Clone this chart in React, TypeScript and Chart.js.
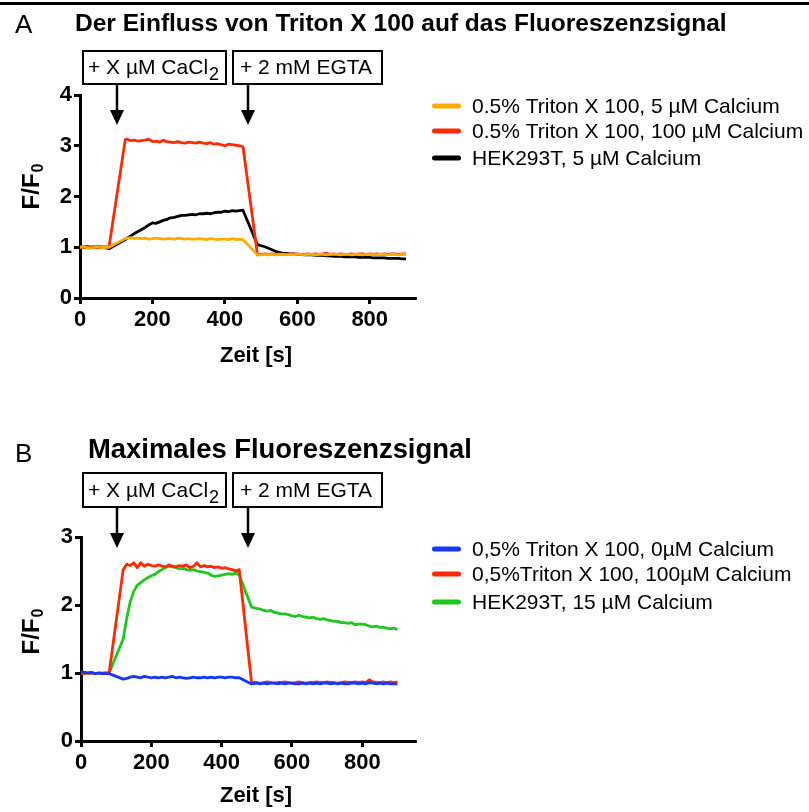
import React, { useEffect, useRef } from "react";
import { Chart, registerables } from "chart.js";

Chart.register(...registerables);

const FONT = "'Liberation Sans', Arial, Helvetica, sans-serif";
const W = 809;
const H = 812;

// ---------- Panel A data ----------
const TIME_A = [
  0, 10, 20, 30, 40, 50, 60, 70, 80,
  125,
  130, 140, 150, 160, 170, 180, 190, 200, 210, 220, 230, 240, 250, 260, 270, 280, 290, 300, 310, 320, 330,
  340, 350, 360, 370, 380, 390, 400, 410, 420, 430, 440, 450,
  490,
  500, 510, 520, 530, 540, 550, 560, 570, 580, 590, 600, 610, 620, 630, 640, 650, 660, 670, 680, 690, 700,
  710, 720, 730, 740, 750, 760, 770, 780, 790, 800, 810, 820, 830, 840, 850, 860, 870, 880, 890, 900,
];

const A_TRITON_5 = [
  1.0, 1.01, 0.99, 0.98, 1.0, 1.01, 0.99, 1.0, 1.0,
  1.17,
  1.18, 1.19, 1.17, 1.18, 1.17, 1.18, 1.16, 1.17, 1.18, 1.17, 1.16, 1.17, 1.17, 1.16, 1.18, 1.17, 1.16,
  1.17, 1.16, 1.16, 1.17, 1.16, 1.15, 1.17, 1.16, 1.15, 1.16, 1.16, 1.15, 1.17, 1.15, 1.16, 1.15,
  0.85,
  0.85, 0.86, 0.85, 0.86, 0.85, 0.86, 0.86, 0.85, 0.86, 0.85, 0.86, 0.86, 0.85, 0.86, 0.86, 0.85, 0.86,
  0.86, 0.85, 0.86, 0.86, 0.86, 0.85, 0.86, 0.86, 0.85, 0.86, 0.86, 0.85, 0.86, 0.86, 0.85, 0.86, 0.86,
  0.86, 0.85, 0.86, 0.86, 0.85, 0.86, 0.86,
];

const A_TRITON_100 = [
  1.0, 1.01, 1.0, 1.0, 1.01, 1.0, 1.0, 1.01, 1.0,
  3.12,
  3.13, 3.1, 3.11, 3.09, 3.1, 3.11, 3.13, 3.08, 3.09, 3.07, 3.11, 3.08, 3.07, 3.06, 3.08, 3.06, 3.05,
  3.07, 3.06, 3.05, 3.07, 3.05, 3.04, 3.06, 3.03, 3.04, 3.02, 3.0, 3.03, 3.02, 3.01, 3.0, 2.98,
  0.85,
  0.86, 0.87, 0.86, 0.87, 0.86, 0.87, 0.86, 0.86, 0.87, 0.86, 0.87, 0.86, 0.86, 0.87, 0.86, 0.87, 0.86,
  0.87, 0.88, 0.86, 0.87, 0.86, 0.87, 0.86, 0.86, 0.87, 0.86, 0.87, 0.87, 0.86, 0.87, 0.86, 0.87, 0.86,
  0.87, 0.86, 0.87, 0.87, 0.86, 0.87, 0.87,
];

const A_HEK_5 = [
  1.01, 1.0, 1.01, 1.0, 1.0, 1.01, 1.0, 0.99, 0.97,
  1.15,
  1.18, 1.22, 1.27, 1.31, 1.35, 1.39, 1.44, 1.48, 1.47, 1.5, 1.53, 1.55, 1.58, 1.59, 1.61, 1.63, 1.63,
  1.64, 1.65, 1.64, 1.66, 1.66, 1.67, 1.66, 1.68, 1.69, 1.69, 1.71, 1.7, 1.72, 1.71, 1.72, 1.73,
  1.05,
  1.03, 1.01, 0.98, 0.95, 0.92, 0.9, 0.88, 0.88, 0.87, 0.87, 0.86, 0.86, 0.85, 0.85, 0.85, 0.84, 0.84,
  0.84, 0.83, 0.83, 0.82, 0.82, 0.82, 0.81, 0.81, 0.81, 0.81, 0.8, 0.8, 0.8, 0.8, 0.79, 0.79, 0.79,
  0.79, 0.78, 0.78, 0.78, 0.78, 0.77, 0.77,
];

const A_X_TICKS = [0, 200, 400, 600, 800];
const A_Y_TICKS = [0, 1, 2, 3, 4];

// ---------- Panel B data ----------
const TIME_B = [
  0, 10, 20, 30, 40, 50, 60, 70, 80,
  120,
  130, 140, 150, 160, 170, 180, 190, 200, 210, 220, 230, 240, 250, 260, 270, 280, 290, 300, 310, 320, 330,
  340, 350, 360, 370, 380, 390, 400, 410, 420, 430, 440, 450,
  485,
  500, 510, 520, 530, 540, 550, 560, 570, 580, 590, 600, 610, 620, 630, 640, 650, 660, 670, 680, 690, 700,
  710, 720, 730, 740, 750, 760, 770, 780, 790, 800, 810, 820, 830, 840, 850, 860, 870, 880, 890, 900,
];

const B_TRITON_0 = [
  1.02, 1.01, 1.0, 1.01, 0.99, 1.0, 0.99, 0.99, 0.99,
  0.91,
  0.92, 0.94, 0.95, 0.94, 0.93, 0.95, 0.94, 0.93, 0.94, 0.93, 0.94, 0.93, 0.94, 0.95, 0.93, 0.94, 0.93,
  0.92, 0.93, 0.94, 0.93, 0.93, 0.94, 0.93, 0.94, 0.93, 0.94, 0.94, 0.93, 0.94, 0.94, 0.93, 0.93,
  0.84,
  0.85, 0.84, 0.85, 0.84, 0.85, 0.85, 0.84, 0.85, 0.84, 0.85, 0.85, 0.84, 0.84, 0.85, 0.84, 0.85, 0.84,
  0.85, 0.84, 0.85, 0.85, 0.84, 0.85, 0.84, 0.85, 0.84, 0.84, 0.85, 0.85, 0.84, 0.85, 0.84, 0.86, 0.85,
  0.84, 0.85, 0.84, 0.85, 0.84, 0.84, 0.84,
];

const B_TRITON_100 = [
  1.0, 0.99, 1.0, 1.0, 0.99, 1.0, 0.99, 1.0, 1.0,
  2.52,
  2.6, 2.58, 2.62, 2.55, 2.62, 2.57, 2.6, 2.58, 2.57, 2.59, 2.57, 2.56, 2.59, 2.57, 2.56, 2.58, 2.57,
  2.59, 2.55, 2.57, 2.62, 2.56, 2.58, 2.56, 2.57, 2.55, 2.56, 2.54, 2.55, 2.53, 2.52, 2.5, 2.52,
  0.86,
  0.86, 0.85, 0.86, 0.87, 0.86, 0.85, 0.86, 0.86, 0.87, 0.86, 0.85, 0.86, 0.87, 0.86, 0.85, 0.86, 0.86,
  0.87, 0.86, 0.86, 0.87, 0.86, 0.86, 0.85, 0.86, 0.87, 0.86, 0.86, 0.87, 0.86, 0.87, 0.86, 0.9, 0.87,
  0.86, 0.86, 0.87, 0.86, 0.87, 0.86, 0.87,
];

const B_HEK_15 = [
  1.0, 1.01, 1.0, 1.0, 0.99, 1.0, 1.0, 1.0, 1.0,
  1.5,
  1.8, 2.05, 2.2, 2.29, 2.33, 2.37, 2.4, 2.43, 2.45, 2.49, 2.52, 2.55, 2.57, 2.56, 2.55, 2.53, 2.54,
  2.52, 2.51, 2.52, 2.5, 2.49, 2.48, 2.47, 2.44, 2.42, 2.43, 2.44, 2.45, 2.46, 2.45, 2.47, 2.44,
  1.97,
  1.95, 1.94, 1.92, 1.91, 1.92, 1.89, 1.88, 1.87, 1.87, 1.86, 1.84, 1.83, 1.85, 1.83, 1.82, 1.81, 1.82,
  1.8, 1.79, 1.8, 1.78, 1.77, 1.76, 1.76, 1.74, 1.74, 1.73, 1.74, 1.71, 1.72, 1.72, 1.71, 1.69, 1.68,
  1.69, 1.67, 1.67, 1.66, 1.65, 1.66, 1.64,
];

const B_X_TICKS = [0, 200, 400, 600, 800];
const B_Y_TICKS = [0, 1, 2, 3];

// ---------- labels ----------
const A_LABELS = [
  "0.5% Triton X 100, 5 µM Calcium",
  "0.5% Triton X 100, 100 µM Calcium",
  "HEK293T, 5 µM Calcium",
];
const B_LABELS = [
  "0,5% Triton X 100, 0µM Calcium",
  "0,5%Triton X 100, 100µM Calcium",
  "HEK293T, 15 µM Calcium",
];
const A_COLORS = ["#FFAA00", "#FF2A00", "#000000"];
const B_COLORS = ["#1436FF", "#FF2A00", "#1EC81E"];

type Panel = {
  letter: string;
  title: string;
  time: number[];
  series: number[][];
  labels: string[];
  colors: string[];
  xTicks: number[];
  yTicks: number[];
  xMax: number;
  yMax: number;
  area: { left: number; right: number; top: number; bottom: number };
  topRule: boolean;
  letterY: number;
  titleX: number;
  titleY: number;
  titleW: number;
  boxTop: number;
  boxBottom: number;
  arrowTip: number;
  yTitleY: number;
  xTitleY: number;
  legendY: number[];
};

const PANELS: Panel[] = [
  {
    letter: "A",
    title: "Der Einfluss von Triton X 100 auf das Fluoreszenzsignal",
    time: TIME_A,
    series: [A_TRITON_5, A_TRITON_100, A_HEK_5],
    labels: A_LABELS,
    colors: A_COLORS,
    xTicks: A_X_TICKS,
    yTicks: A_Y_TICKS,
    xMax: 925,
    yMax: 4,
    area: { left: 80, right: 415, top: 95, bottom: 298 },
    topRule: true,
    letterY: 33,
    titleX: 75,
    titleY: 31,
    titleW: 652,
    boxTop: 51,
    boxBottom: 84,
    arrowTip: 125,
    yTitleY: 187,
    xTitleY: 362,
    legendY: [106, 131, 158],
  },
  {
    letter: "B",
    title: "Maximales Fluoreszenzsignal",
    time: TIME_B,
    series: [B_TRITON_0, B_TRITON_100, B_HEK_15],
    labels: B_LABELS,
    colors: B_COLORS,
    xTicks: B_X_TICKS,
    yTicks: B_Y_TICKS,
    xMax: 950,
    yMax: 3,
    area: { left: 81, right: 415, top: 537, bottom: 741 },
    topRule: false,
    letterY: 462,
    titleX: 88,
    titleY: 458,
    titleW: 384,
    boxTop: 473,
    boxBottom: 507,
    arrowTip: 548,
    yTitleY: 632,
    xTitleY: 802,
    legendY: [549, 574, 602],
  },
];

function fitText(ctx: CanvasRenderingContext2D, text: string, x: number, y: number, width: number, weight: string, base: number) {
  ctx.font = `${weight} ${base}px ${FONT}`;
  const w = ctx.measureText(text).width;
  const size = (base * width) / w;
  ctx.font = `${weight} ${size}px ${FONT}`;
  ctx.fillText(text, x, y);
}

function decorPlugin(p: Panel) {
  return {
    id: "decor" + p.letter,
    afterDraw(chart: any) {
      const ctx: CanvasRenderingContext2D = chart.ctx;
      ctx.save();
      ctx.fillStyle = "#000";
      ctx.strokeStyle = "#000";
      ctx.textAlign = "left";
      ctx.textBaseline = "alphabetic";

      if (p.topRule) ctx.fillRect(0, 2, W, 3);

      // panel letter + title
      ctx.font = `26px ${FONT}`;
      ctx.fillText(p.letter, 15, p.letterY);
      fitText(ctx, p.title, p.titleX, p.titleY, p.titleW, "bold", 24);

      // annotation boxes
      const boxH = p.boxBottom - p.boxTop;
      const textY = p.boxTop + boxH * 0.7;
      ctx.lineWidth = 2;
      ctx.strokeRect(83, p.boxTop, 143, boxH);
      ctx.strokeRect(233, p.boxTop, 149, boxH);
      ctx.font = `21px ${FONT}`;
      const t1 = "+ X µM CaCl";
      ctx.fillText(t1, 88, textY);
      const w1 = ctx.measureText(t1).width;
      ctx.font = `18px ${FONT}`;
      ctx.fillText("2", 88 + w1 + 1, textY + 6);
      ctx.font = `21px ${FONT}`;
      ctx.fillText("+ 2 mM EGTA", 240, textY);

      // arrows
      const arrowXs = [117, 248];
      for (const ax of arrowXs) {
        ctx.lineWidth = 2.5;
        ctx.beginPath();
        ctx.moveTo(ax, p.boxBottom);
        ctx.lineTo(ax, p.arrowTip - 12);
        ctx.stroke();
        ctx.beginPath();
        ctx.moveTo(ax - 7, p.arrowTip - 15);
        ctx.lineTo(ax + 7, p.arrowTip - 15);
        ctx.lineTo(ax, p.arrowTip);
        ctx.closePath();
        ctx.fill();
      }

      // y axis title F/F0
      ctx.save();
      ctx.translate(39, p.yTitleY);
      ctx.rotate(-Math.PI / 2);
      ctx.font = `bold 24px ${FONT}`;
      const main = "F/F";
      const wm = ctx.measureText(main).width;
      ctx.font = `bold 16px ${FONT}`;
      const ws = ctx.measureText("0").width;
      const start = -(wm + ws) / 2;
      ctx.font = `bold 24px ${FONT}`;
      ctx.fillText(main, start, 0);
      ctx.font = `bold 16px ${FONT}`;
      ctx.fillText("0", start + wm + 1, 4);
      ctx.restore();

      // x axis title
      ctx.font = `bold 22px ${FONT}`;
      ctx.textAlign = "center";
      ctx.fillText("Zeit [s]", 256, p.xTitleY);

      // legend
      ctx.textAlign = "left";
      ctx.textBaseline = "middle";
      ctx.font = `21px ${FONT}`;
      ctx.lineCap = "round";
      ctx.lineWidth = 5;
      chart.data.datasets.forEach((ds: any, i: number) => {
        const y = p.legendY[i];
        ctx.strokeStyle = ds.borderColor;
        ctx.beginPath();
        ctx.moveTo(434.5, y);
        ctx.lineTo(458.5, y);
        ctx.stroke();
        ctx.fillStyle = "#000";
        ctx.fillText(ds.label, 472, y + 1);
      });
      ctx.restore();
    },
  };
}

function makeConfig(p: Panel): any {
  const Y_AXIS_W = 40;
  const X_AXIS_H = 40;
  const tickFont = { family: FONT, size: 22, weight: "bold" as const };
  const grid = {
    display: true,
    drawOnChartArea: false,
    drawTicks: true,
    tickLength: 6,
    tickWidth: 3,
    tickColor: "#000",
    lineWidth: 3,
    color: "#000",
  };
  const border = { display: true, color: "#000", width: 3 };
  return {
    type: "line",
    data: {
      datasets: p.series.map((vals, i) => ({
        label: p.labels[i],
        data: p.time.map((t, j) => ({ x: t, y: vals[j] })),
        borderColor: p.colors[i],
        backgroundColor: p.colors[i],
        borderWidth: 2.8,
        pointRadius: 0,
        tension: 0,
        fill: false,
        borderJoinStyle: "round",
      })),
    },
    options: {
      responsive: false,
      animation: false,
      devicePixelRatio: 1,
      events: [],
      layout: {
        padding: {
          left: p.area.left - Y_AXIS_W,
          right: W - p.area.right,
          top: p.area.top,
          bottom: H - p.area.bottom - X_AXIS_H,
        },
      },
      plugins: {
        legend: { display: false },
        tooltip: { enabled: false },
        title: { display: false },
      },
      scales: {
        x: {
          type: "linear",
          min: 0,
          max: p.xMax,
          afterFit: (s: any) => {
            s.height = X_AXIS_H;
          },
          afterBuildTicks: (s: any) => {
            s.ticks = p.xTicks.map((v) => ({ value: v }));
          },
          ticks: { font: tickFont, color: "#000", padding: 3, maxRotation: 0, autoSkip: false },
          grid,
          border,
        },
        y: {
          type: "linear",
          min: 0,
          max: p.yMax,
          afterFit: (s: any) => {
            s.width = Y_AXIS_W;
          },
          afterBuildTicks: (s: any) => {
            s.ticks = p.yTicks.map((v) => ({ value: v }));
          },
          ticks: { font: tickFont, color: "#000", padding: 2, autoSkip: false },
          grid,
          border,
        },
      },
    },
    plugins: [decorPlugin(p)],
  };
}

export default function App() {
  const refA = useRef<HTMLCanvasElement>(null);
  const refB = useRef<HTMLCanvasElement>(null);

  useEffect(() => {
    document.body.style.margin = "0";
    const charts: Chart[] = [];
    if (refA.current) charts.push(new Chart(refA.current, makeConfig(PANELS[0])));
    if (refB.current) charts.push(new Chart(refB.current, makeConfig(PANELS[1])));
    return () => charts.forEach((c) => c.destroy());
  }, []);

  const cs: React.CSSProperties = { position: "absolute", left: 0, top: 0, width: W, height: H };
  return (
    <div style={{ position: "relative", width: W, height: H, background: "#fff", overflow: "hidden" }}>
      <canvas ref={refA} width={W} height={H} style={cs} />
      <canvas ref={refB} width={W} height={H} style={cs} />
    </div>
  );
}
